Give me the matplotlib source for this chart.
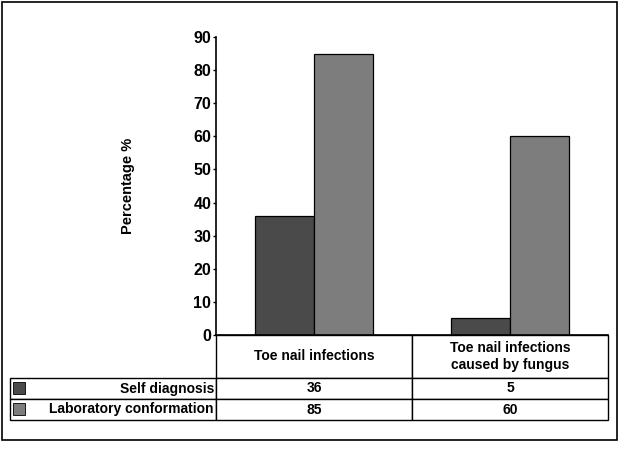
import numpy as np
import matplotlib.pyplot as plt
from matplotlib.patches import Rectangle

# =========================
# DATA
# =========================
categories = ["Toe nail infections", "Toe nail infections\ncaused by fungus"]
series_names = ["Self diagnosis", "Laboratory conformation"]
self_diag = [36, 5]
lab_conf = [85, 60]
yticks = list(range(0, 100, 10))

colors = ["#4a4a4a", "#7d7d7d"]
font = "Liberation Sans"
plt.rcParams["font.family"] = [font, "DejaVu Sans"]

# =========================
# FIGURE
# =========================
W, H = 621, 461
fig = plt.figure(figsize=(W / 100, H / 100), dpi=100)

ax_l, ax_r, ax_t, ax_b = 216, 608, 37, 335
ax = fig.add_axes([ax_l / W, 1 - ax_b / H, (ax_r - ax_l) / W, (ax_b - ax_t) / H])

x = np.arange(len(categories)) + 0.5
bw = 0.3
ax.bar(x - bw / 2, self_diag, bw, color=colors[0], edgecolor="black", linewidth=0.9)
ax.bar(x + bw / 2, lab_conf, bw, color=colors[1], edgecolor="black", linewidth=0.9)

ax.set_xlim(0, len(categories))
ax.set_ylim(0, 90)
ax.set_yticks(yticks)
ax.set_yticklabels([str(t) for t in yticks], fontsize=11.5, fontweight="bold")
ax.set_xticks([])
ax.tick_params(axis="y", length=2, width=1, pad=1.5)
for s in ["top", "right"]:
    ax.spines[s].set_visible(False)
ax.spines["left"].set_linewidth(1.2)
ax.spines["bottom"].set_linewidth(1.2)

ax.text((128 - ax_l) / (ax_r - ax_l), 0.5, "Percentage %", transform=ax.transAxes,
        rotation=90, ha="center", va="center", fontsize=10.5, fontweight="bold")

# =========================
# DATA TABLE
# =========================
ax_w = ax_r - ax_l
ax_h = ax_b - ax_t
tbl_left, tbl_bottom = 10, 420
head_h, row_h = 43, 21
label_w = (ax_l - tbl_left) / ax_w
col_w = 1 / len(categories)
tot_h = (head_h + 2 * row_h) / ax_h

cell_text = [[str(v) for v in self_diag], [str(v) for v in lab_conf]]
tbl = ax.table(cellText=cell_text, rowLabels=series_names, colLabels=categories,
               cellLoc="center", rowLoc="right", colLoc="center",
               bbox=[0, -tot_h, 1, tot_h])
tbl.auto_set_font_size(False)
tbl._autoColumns = []
for (r, c), cell in tbl.get_celld().items():
    cell.set_width(label_w if c == -1 else col_w)
    cell.set_height((head_h if r == 0 else row_h) / ax_h)
    cell.set_linewidth(1.0)
    cell.get_text().set_fontsize(10)
    cell.get_text().set_fontweight("bold")
    if c == -1:
        cell.PAD = 0.01

# legend keys in the row label cells
for i, col in enumerate(colors):
    y_top = ax_b + head_h + i * row_h + 4
    ax.add_patch(Rectangle(((13 - ax_l) / ax_w, -(y_top + 12 - ax_b) / ax_h),
                           12 / ax_w, 12 / ax_h, transform=ax.transAxes,
                           facecolor=col, edgecolor="black", linewidth=0.6,
                           clip_on=False))

# outer frame
fig.add_artist(Rectangle((0.004, 1 - 440 / H), 0.99, 440 / H - 0.005,
                         transform=fig.transFigure, fill=False,
                         edgecolor="black", linewidth=1.2))

plt.savefig("out.png", dpi=100)
